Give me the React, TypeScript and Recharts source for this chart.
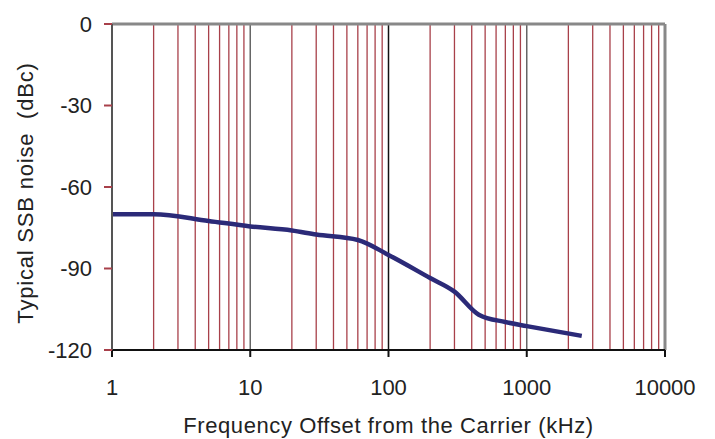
import { LineChart, Line, XAxis, YAxis, ReferenceLine, Label } from "recharts"

// frequency offset (kHz) and typical SSB noise (dBc)
const freqs = [1, 2, 5, 10, 20, 30, 60, 100, 200, 300, 450, 700, 1000, 2500]
const noise = [-70, -70, -72.5, -74.5, -76, -77.5, -79.5, -85, -93.5, -98.5, -107, -109.7, -111.2, -114.8]

const xTicks = [1, 10, 100, 1000, 10000]
const yTicks = [-120, -90, -60, -30, 0]
const decades = [1, 10, 100, 1000]
const minorSteps = [2, 3, 4, 5, 6, 7, 8, 9]

const data = freqs.map((f, i) => ({ f, noise: noise[i] }))
const minorLines = decades.flatMap((d) => minorSteps.map((m) => d * m))

const font = "'Liberation Sans', Arial, sans-serif"

const YTitle = () => (
  <text
    x={25}
    y={193}
    transform="rotate(-90, 25, 193)"
    textAnchor="middle"
    dominantBaseline="central"
    fill="#222"
    fontSize={22}
    fontFamily={font}
    letterSpacing={0.8}
  >
    {"Typical SSB noise \u00a0(dBc)"}
  </text>
)

export default function App() {
  return (
    <div style={{ position: "absolute", left: 0, top: 0, background: "#fff" }}>
      <LineChart width={715} height={439} data={data} margin={{ top: 24, right: 50, left: 0, bottom: 0 }}>
        {minorLines.map((v) => (
          <ReferenceLine key={v} x={v} stroke="#a8404a" strokeWidth={1.3} />
        ))}
        <ReferenceLine x={10} stroke="#666" strokeWidth={1.5} />
        <ReferenceLine x={100} stroke="#111" strokeWidth={1.5} />
        <ReferenceLine x={1000} stroke="#666" strokeWidth={1.5} />
        <ReferenceLine y={0} stroke="#888" strokeWidth={3} />
        <ReferenceLine x={10000} stroke="#888" strokeWidth={3} />
        <XAxis
          dataKey="f"
          type="number"
          scale="log"
          domain={[1, 10000]}
          ticks={xTicks}
          allowDataOverflow
          height={89}
          tickSize={7}
          tickMargin={22}
          stroke="#111"
          strokeWidth={2}
          tick={{ fill: "#222", fontSize: 22, fontFamily: font }}
        >
          <Label
            value="Frequency Offset from the Carrier (kHz)"
            position="insideBottom"
            offset={6}
            style={{ fill: "#222", fontSize: 22, fontFamily: font, letterSpacing: 0.6 }}
          />
        </XAxis>
        <YAxis
          type="number"
          domain={[-120, 0]}
          ticks={yTicks}
          width={112}
          tickSize={8}
          tickMargin={12}
          stroke="#555"
          strokeWidth={2}
          tickLine={{ stroke: "#a8404a" }}
          tick={{ fill: "#222", fontSize: 22, fontFamily: font }}
        >
          <Label content={<YTitle />} />
        </YAxis>
        <Line
          type="monotone"
          dataKey="noise"
          stroke="#2b2a78"
          strokeWidth={4.5}
          dot={false}
          isAnimationActive={false}
        />
      </LineChart>
    </div>
  )
}
